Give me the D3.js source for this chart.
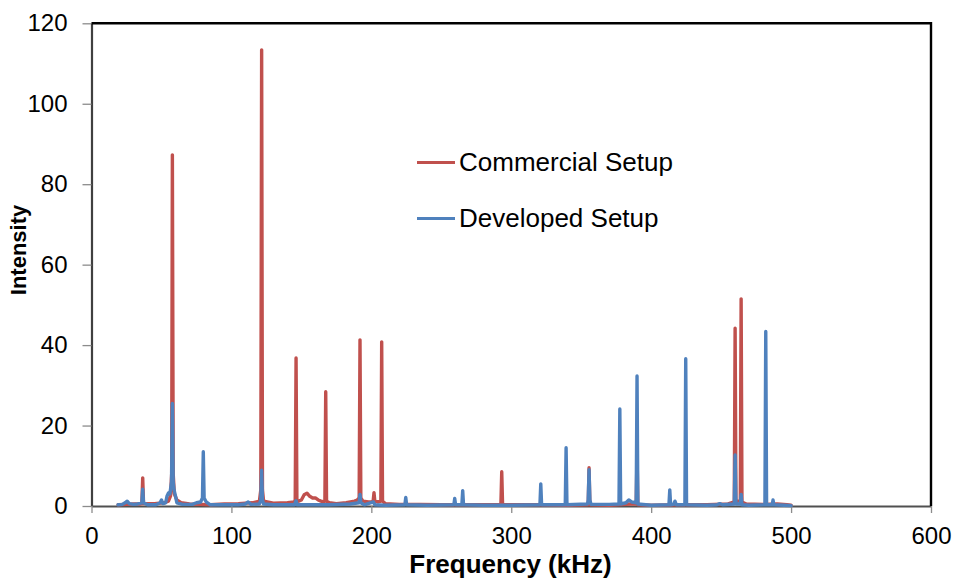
<!DOCTYPE html>
<html>
<head>
<meta charset="utf-8">
<script src="https://cdn.jsdelivr.net/npm/d3@7"></script>
<style>
  html, body { margin: 0; padding: 0; background: #fff; }
  svg { display: block; font-family: "Liberation Sans", Arial, sans-serif; }
</style>
</head>
<body>
<svg id="chart" width="954" height="581"></svg>
<script>
// Spectrum of the commercial setup: frequency (kHz) and intensity
const commercialFreq = [
  19, 25, 30, 35, 36.0, 36.6, 37.2, 45, 52, 55, 56.5, 57.3, 57.8, 58.4, 59.2, 61, 64, 70, 78, 85,
  95, 105, 115, 120, 121.0, 121.6, 122.2, 123, 130, 140, 145, 145.6, 146.2, 146.8, 148, 150, 152, 154, 156, 158,
  160, 162, 164, 166, 166.8, 167.4, 168.0, 170, 175, 182, 188, 190, 191.3, 191.9, 192.5, 194, 198, 200, 201.3, 201.9,
  202.5, 205, 206.8, 207.4, 208.0, 210, 220, 235, 250, 270, 285, 292.6, 293.2, 293.8, 300, 320, 340, 355.0, 355.6, 356.2,
  370, 385, 389.3, 389.9, 390.5, 400, 420, 440, 455, 459.4, 460, 460.6, 462, 463.7, 464.3, 464.9, 468, 480, 490, 497, 500
];
const commercialIntensity = [
  0.3, 0.4, 0.5, 0.5, 0.6, 7.0, 0.6, 0.6, 0.8, 1.2, 2.5, 8, 87.3, 8, 3, 1.5, 0.8, 0.5, 0.4, 0.3,
  0.5, 0.6, 0.8, 1.2, 4, 113.4, 4, 1.2, 0.7, 0.8, 1.0, 1.5, 36.8, 1.5, 1.2, 1.5, 2.8, 3.2, 2.4, 2.0,
  2.0, 1.5, 1.2, 1.0, 1.2, 28.4, 1.2, 0.8, 0.6, 0.8, 1.2, 1.5, 2, 41.3, 2, 1.2, 1.0, 1.0, 1.2, 3.3,
  1.2, 1.0, 1.2, 40.8, 1.2, 0.6, 0.4, 0.4, 0.3, 0.3, 0.3, 0.4, 8.5, 0.4, 0.3, 0.3, 0.2, 0.3, 9.5, 0.3,
  0.2, 0.5, 0.5, 13, 0.3, 0.2, 0.3, 0.3, 0.5, 1, 44.2, 1, 1.2, 1.2, 51.5, 1, 0.5, 0.4, 0.5, 0.3, 0.2
];

// Spectrum of the developed setup
const developedFreq = [
  19, 22, 24, 25.5, 27, 30, 33, 36.0, 36.6, 37.2, 40, 46, 49, 50, 51, 53, 54, 55, 56, 57.2,
  57.8, 58.4, 59, 60, 61, 65, 72, 75, 78, 79.3, 79.9, 80.5, 82, 85, 95, 105, 110, 112, 114, 120,
  121.0, 121.6, 122.2, 123, 130, 145, 146.2, 147, 160, 170, 185, 191.3, 191.9, 192.5, 195, 201.5, 202.5, 210, 224.0, 224.6,
  225.2, 240, 259.0, 259.6, 260.2, 264.7, 265.3, 265.9, 280, 300, 320.5, 321.1, 321.7, 338.6, 339.2, 339.8, 354.5, 355, 355.6, 356.2,
  357, 370, 377.0, 377.6, 378.2, 382, 384, 386, 389.3, 389.9, 390.5, 400, 412.7, 413.3, 413.9, 416, 417, 418, 424.1, 424.7,
  425.3, 440, 447, 449, 451, 459.4, 460, 460.6, 463.7, 464.3, 464.9, 470, 481.3, 481.9, 482.5, 486.5, 487.1, 487.7, 495, 500
];
const developedIntensity = [
  0.3, 0.4, 0.8, 1.2, 0.6, 0.4, 0.5, 0.8, 4.2, 0.8, 0.3, 0.3, 0.8, 1.5, 0.6, 0.8, 2.5, 3.2, 3.0, 6,
  25.5, 6, 4, 2.5, 0.8, 0.4, 0.4, 0.8, 1.0, 2, 13.5, 2, 1.0, 0.3, 0.3, 0.3, 0.5, 1.0, 0.4, 0.5,
  1.5, 8.9, 1.5, 0.5, 0.3, 0.3, 1.3, 0.3, 0.3, 0.3, 0.5, 0.8, 2.9, 0.8, 0.3, 1.0, 0.3, 0.2, 0.3, 2.1,
  0.3, 0.2, 0.3, 1.9, 0.3, 0.3, 3.8, 0.3, 0.2, 0.2, 0.3, 5.5, 0.3, 0.3, 14.5, 0.3, 0.5, 1.5, 9.0, 1.5,
  0.4, 0.4, 0.5, 24.1, 0.5, 0.8, 1.5, 1.0, 0.8, 32.3, 0.5, 0.2, 0.3, 4.0, 0.3, 0.4, 1.2, 0.3, 0.3, 36.6,
  0.3, 0.2, 0.3, 0.6, 0.3, 0.5, 12.7, 0.5, 0.5, 2.9, 0.3, 0.2, 0.3, 43.4, 0.3, 0.3, 1.5, 0.3, 0.2, 0.1
];

const xTicks = [0, 100, 200, 300, 400, 500, 600];
const yTicks = [0, 20, 40, 60, 80, 100, 120];
const seriesNames = ["Commercial Setup", "Developed Setup"];
const seriesColors = ["#C0504D", "#4F81BD"];

const svg = d3.select("#chart");
const plotLeft = 91.5, plotRight = 931, plotTop = 23.3, plotBottom = 506;

const x = d3.scaleLinear().domain([0, 600]).range([plotLeft, plotRight]);
const y = d3.scaleLinear().domain([0, 120]).range([plotBottom, plotTop]);

// Y axis
const yAxis = svg.append("g")
  .attr("transform", `translate(${plotLeft},0)`)
  .call(d3.axisLeft(y).tickValues(yTicks).tickSize(9).tickPadding(15).tickSizeOuter(0));
yAxis.select(".domain").attr("stroke", "#404040").attr("stroke-width", 2.2);
yAxis.selectAll(".tick line").attr("stroke", "#8c8c8c").attr("stroke-width", 1.3);
yAxis.selectAll(".tick text").attr("font-size", 24).attr("fill", "#000")
  .attr("font-family", "'Liberation Sans', Arial, sans-serif");

// X axis
const xAxis = svg.append("g")
  .attr("transform", `translate(0,${plotBottom})`)
  .call(d3.axisBottom(x).tickValues(xTicks).tickSize(7).tickPadding(14).tickSizeOuter(0));
xAxis.select(".domain").attr("stroke", "#505050").attr("stroke-width", 2);
xAxis.selectAll(".tick line").attr("stroke", "#8c8c8c").attr("stroke-width", 1.3);
xAxis.selectAll(".tick text").attr("font-size", 24).attr("fill", "#000")
  .attr("font-family", "'Liberation Sans', Arial, sans-serif");

// Plot frame: top and right edges
svg.append("path")
  .attr("d", `M${plotLeft},${plotTop}H${plotRight}V${plotBottom}`)
  .attr("fill", "none").attr("stroke", "#000").attr("stroke-width", 2.4);

// Spectra
const line = d3.line().x(d => x(d[0])).y(d => y(d[1]));
const series = [
  d3.zip(commercialFreq, commercialIntensity),
  d3.zip(developedFreq, developedIntensity)
];
series.forEach((pts, i) => {
  svg.append("path")
    .datum(pts)
    .attr("d", line)
    .attr("fill", "none")
    .attr("stroke", seriesColors[i])
    .attr("stroke-width", 3.4)
    .attr("stroke-linejoin", "round")
    .attr("stroke-linecap", "round");
});

// Legend
const legendY = [162.5, 218.5];
seriesNames.forEach((name, i) => {
  svg.append("line")
    .attr("x1", 417).attr("x2", 455)
    .attr("y1", legendY[i]).attr("y2", legendY[i])
    .attr("stroke", seriesColors[i]).attr("stroke-width", 3);
  svg.append("text")
    .attr("x", 459).attr("y", legendY[i] + 8.5)
    .attr("font-size", 26).attr("fill", "#000")
    .text(name);
});

// Axis titles
svg.append("text")
  .attr("x", 510.5).attr("y", 573)
  .attr("text-anchor", "middle")
  .attr("font-size", 26).attr("font-weight", "bold")
  .text("Frequency (kHz)");

svg.append("text")
  .attr("transform", "translate(26,250) rotate(-90)")
  .attr("text-anchor", "middle")
  .attr("font-size", 22).attr("font-weight", "bold")
  .text("Intensity");
</script>
</body>
</html>
